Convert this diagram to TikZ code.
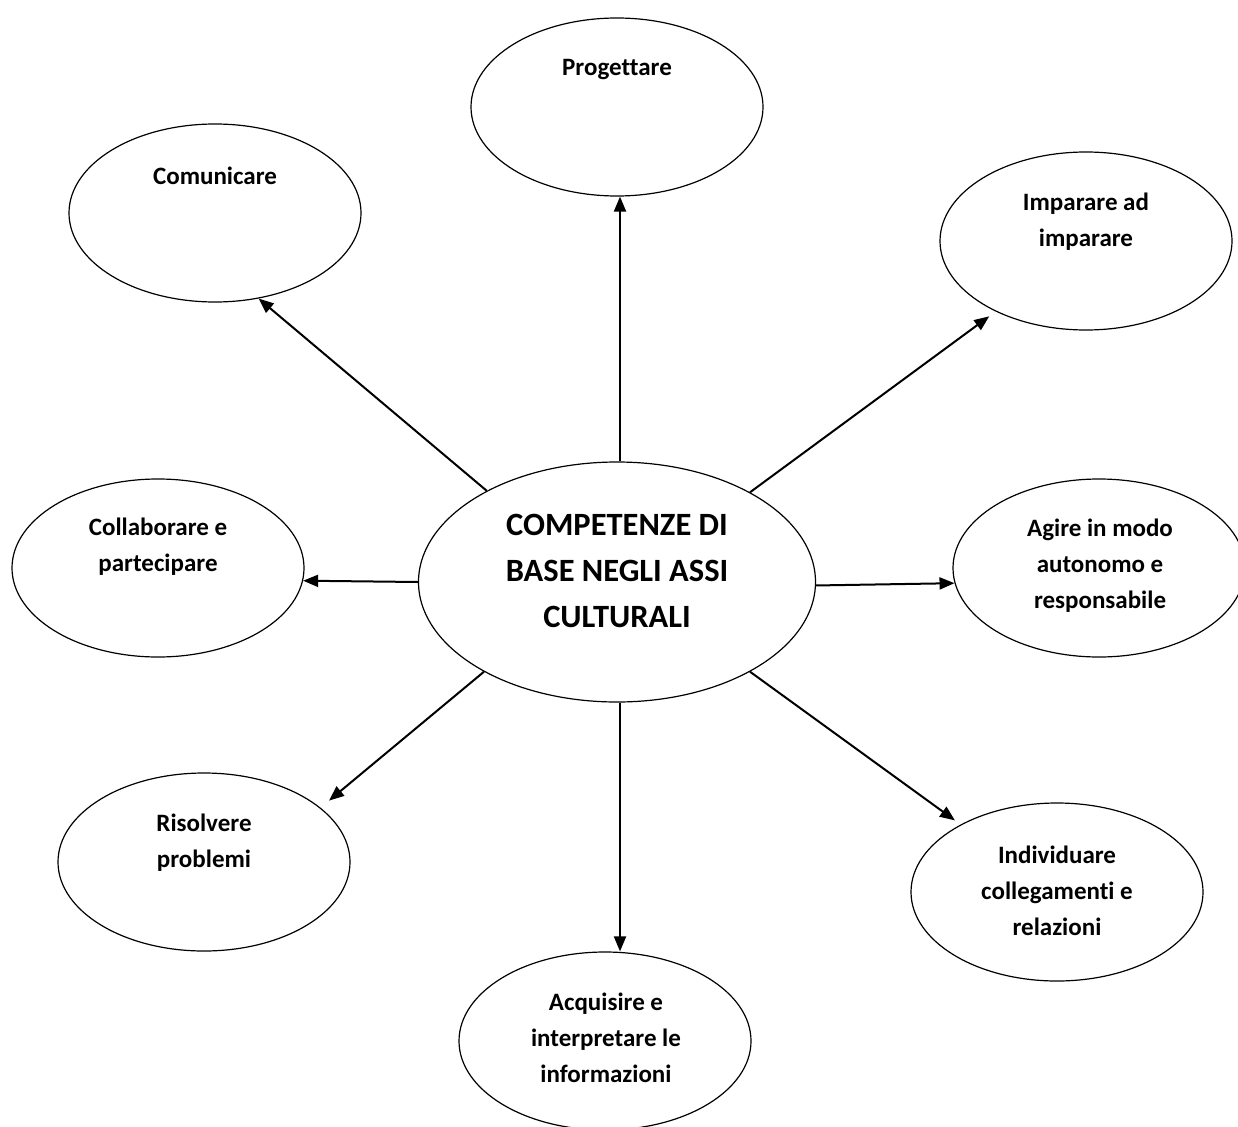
\documentclass[tikz,border=0pt]{standalone}
\usepackage{fontspec}
\setmainfont{Carlito}[Ligatures=NoCommon]
\usetikzlibrary{shapes.geometric,arrows.meta}
\begin{document}
\begin{tikzpicture}[x=1pt,y=-1pt,
  bub/.style={draw,ellipse,line width=1.2pt,inner sep=0pt,minimum width=292pt,minimum height=178pt},
  lbl/.style={align=center,font=\bfseries\fontsize{25}{36}\selectfont,inner sep=0pt},
  biglbl/.style={align=center,font=\bfseries\fontsize{32.5}{46}\selectfont,inner sep=0pt},
  arr/.style={line width=2pt,-{Triangle[length=15pt,width=12pt]}}]
\clip (0,0) rectangle (1238,1126);
\fill[white] (0,0) rectangle (1238,1126);
% central ellipse
\node[bub,minimum width=397pt,minimum height=240pt] (c) at (617,582) {};
\node[biglbl] (ct) at (617,571) {COMPETENZE DI\\BASE NEGLI ASSI\\CULTURALI};
% surrounding ellipses
\node[bub] (prog) at (617,107) {};
\node[lbl] (progt) at (617,70) {Progettare};
\node[bub] (com) at (215,213) {};
\node[lbl] (comt) at (215,176) {Comunicare};
\node[bub] (imp) at (1086,241) {};
\node[lbl] (impt) at (1086,222) {Imparare ad\\imparare};
\node[bub] (col) at (158,568) {};
\node[lbl] (colt) at (158,547) {Collaborare e\\partecipare};
\node[bub] (agi) at (1099,568) {};
\node[lbl] (agit) at (1100,566) {Agire in modo\\autonomo e\\responsabile};
\node[bub] (ris) at (204,862) {};
\node[lbl] (rist) at (204,843) {Risolvere\\problemi};
\node[bub] (ind) at (1057,892) {};
\node[lbl] (indt) at (1057,891) {Individuare\\collegamenti e\\relazioni};
\node[bub] (acq) at (605,1041) {};
\node[lbl] (acqt) at (606,1038) {Acquisire e\\interpretare le\\informazioni};
% connectors
\draw[arr] ([xshift=3pt]c.north) -- ([xshift=3pt]c.north |- prog.south);
\draw[arr] (c.145) -- (com.-63);
\draw[arr,shorten >=8pt] (c.34) -- (imp.-142);
\draw[arr] (c.180) -- (col.-5);
\draw[arr] (c.-1) -- (agi.186);
\draw[arr,shorten >=11pt] (c.-146) -- (ris.25);
\draw[arr] ([xshift=3pt]c.south) -- ([xshift=3pt]c.south |- acq.north);
\draw[arr,shorten >=7pt] (c.-34) -- (ind.145);
\end{tikzpicture}
\end{document}
